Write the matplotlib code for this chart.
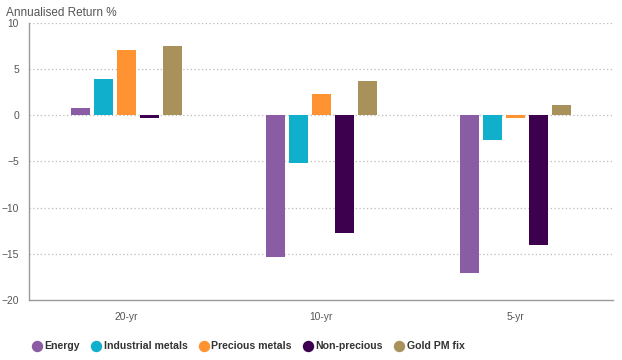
import numpy as np
import matplotlib
matplotlib.use("Agg")
from matplotlib import pyplot as plt
from matplotlib.lines import Line2D

plt.rcParams['font.family'] = ['Liberation Sans', 'DejaVu Sans']

periods = ['20-yr', '10-yr', '5-yr']
series = ['Energy', 'Industrial metals', 'Precious metals', 'Non-precious', 'Gold PM fix']
colors = ['#8A5CA3', '#10B0CD', '#FF9331', '#3D004F', '#A8915B']

energy = [0.8, -15.3, -17.1]
industrial = [3.9, -5.2, -2.7]
precious = [7.0, 2.3, -0.35]
non_precious = [-0.3, -12.8, -14.0]
gold = [7.5, 3.7, 1.1]
values = [energy, industrial, precious, non_precious, gold]

fig = plt.figure(figsize=(6.22, 3.6), dpi=100)
ax = fig.add_axes([0.0474, 0.1667, 0.9381, 0.7703])

x = np.arange(len(periods))
pitch = 0.118
width = 0.098
for i, (name, vals) in enumerate(zip(series, values)):
    ax.bar(x + (i - 2) * pitch, vals, width=width, color=colors[i], label=name, zorder=3)

ax.set_xlim(-0.5, 2.5)
ax.set_ylim(-20, 10)
ax.set_yticks([-20, -15, -10, -5, 0, 5, 10])
ax.set_xticks(x)
ax.set_xticklabels(periods)
for y in [-15, -10, -5, 0, 5, 10]:
    ax.axhline(y, color='#BBBBBB', linestyle=(0, (1, 2)), linewidth=0.9, zorder=1)

for s in ['top', 'right']:
    ax.spines[s].set_visible(False)
for s in ['left', 'bottom']:
    ax.spines[s].set_color('#9A9A9A')
    ax.spines[s].set_linewidth(1.0)
ax.tick_params(axis='both', length=0, labelsize=7.4, colors='#555555')
ax.tick_params(axis='y', pad=7.5)
ax.tick_params(axis='x', pad=9)

fig.text(0.009, 0.963, 'Annualised Return %', fontsize=8.5, color='#555555', va='center', ha='left')

handles = [Line2D([], [], marker='o', linestyle='', markersize=7.2, color=c) for c in colors]
leg = fig.legend(handles, series, loc='center left', bbox_to_anchor=(0.035, 0.038), ncol=5,
                 frameon=False, handletextpad=0.25, columnspacing=1.0, handlelength=1.0,
                 prop={'weight': 'bold', 'size': 7.6})
for t in leg.get_texts():
    t.set_color('#333333')

fig.savefig('out.png', dpi=100)
